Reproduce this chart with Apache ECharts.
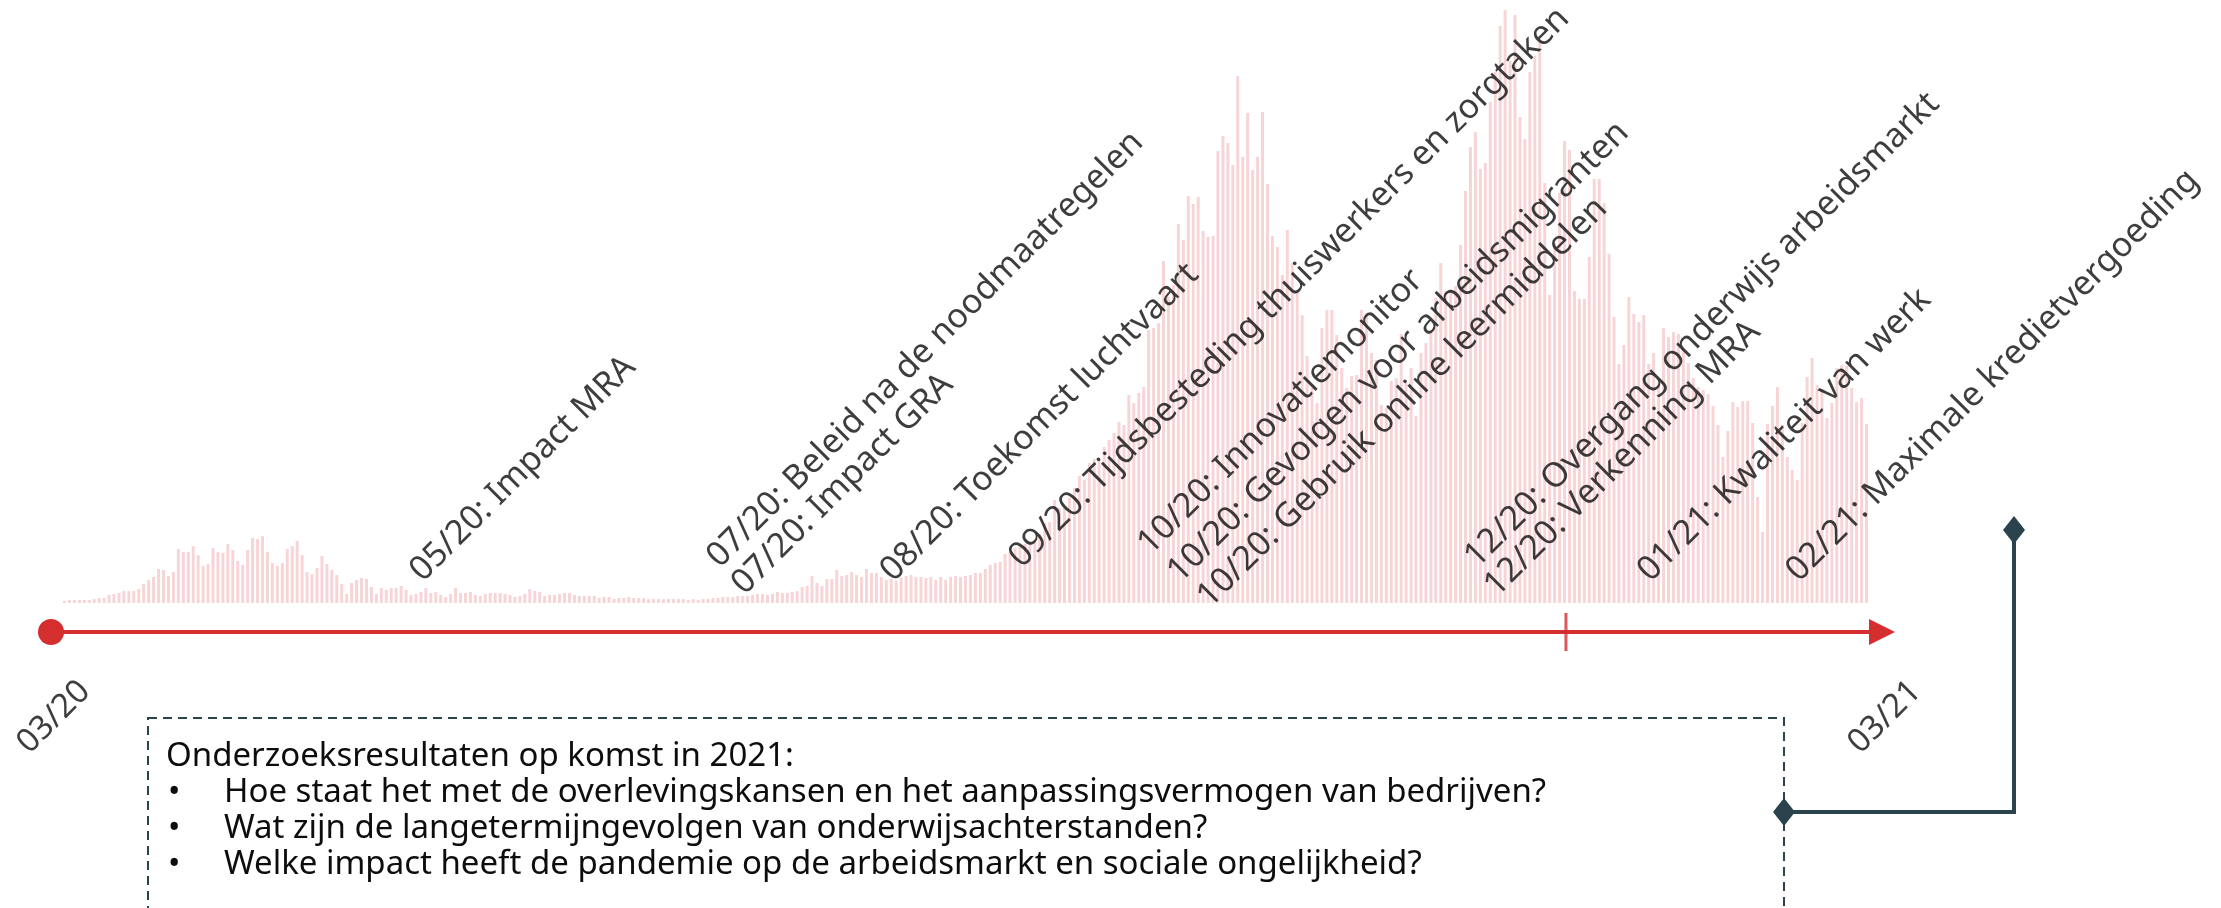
<!DOCTYPE html>
<html>
<head>
<meta charset="UTF-8">
<title>Tijdlijn onderzoeken</title>
<script src="https://cdn.jsdelivr.net/npm/echarts@6/dist/echarts.min.js"></script>
<style>
  html, body { margin: 0; padding: 0; background: #fff; }
  #main { width: 2221px; height: 908px; }
</style>
</head>
<body>
<div id="main"></div>
<script type="text/javascript">
  var barStart = '2020-03-01';
  var cases = [
    2, 3, 3, 3, 3, 3, 4, 5, 5, 8,
    9, 10, 12, 12, 12, 14, 19, 23, 26, 34,
    33, 27, 31, 54, 51, 51, 57, 48, 37, 39,
    55, 51, 50, 59, 53, 42, 38, 53, 65, 64,
    67, 51, 40, 37, 40, 54, 57, 62, 48, 31,
    29, 35, 47, 39, 33, 28, 19, 9, 20, 23,
    25, 24, 16, 9, 15, 13, 15, 15, 17, 13,
    8, 9, 11, 15, 10, 11, 8, 6, 9, 15,
    10, 10, 11, 8, 7, 9, 10, 10, 10, 9,
    8, 6, 7, 9, 14, 12, 11, 7, 8, 8,
    9, 10, 10, 8, 7, 7, 7, 7, 5, 6,
    6, 4, 5, 5, 6, 5, 5, 5, 4, 4,
    4, 4, 4, 4, 4, 4, 3, 4, 3, 4,
    4, 5, 5, 6, 6, 6, 7, 7, 7, 8,
    9, 9, 8, 9, 11, 10, 10, 11, 12, 16,
    17, 27, 20, 17, 24, 24, 33, 27, 28, 31,
    28, 26, 34, 30, 30, 26, 23, 24, 22, 25,
    27, 28, 26, 26, 25, 26, 23, 26, 23, 26,
    27, 26, 27, 28, 30, 30, 34, 38, 40, 41,
    49, 51, 55, 57, 59, 60, 62, 69, 80, 81,
    103, 95, 95, 105, 115, 127, 123, 140, 144, 143,
    156, 163, 170, 181, 178, 208, 200, 210, 216, 273,
    275, 280, 342, 306, 318, 379, 363, 407, 399, 406,
    372, 366, 367, 452, 467, 460, 438, 527, 446, 490,
    433, 446, 491, 419, 367, 356, 328, 373, 340, 311,
    288, 247, 215, 200, 275, 293, 293, 268, 235, 215,
    227, 228, 293, 290, 250, 243, 198, 195, 222, 225,
    269, 220, 235, 187, 250, 260, 272, 305, 340, 312,
    313, 317, 358, 412, 456, 471, 434, 440, 501, 531,
    577, 593, 542, 588, 486, 464, 531, 547, 562, 420,
    308, 360, 410, 462, 453, 312, 304, 304, 346, 424,
    424, 400, 349, 286, 239, 258, 306, 289, 281, 288,
    239, 250, 221, 275, 266, 271, 269, 255, 240, 225,
    216, 213, 209, 197, 178, 146, 172, 201, 196, 202,
    202, 180, 106, 71, 179, 197, 216, 178, 146, 133,
    123, 180, 226, 245, 218, 214, 185, 200, 235, 238,
    237, 215, 201, 205, 179
  ];

  // onderzoeken langs de tijdlijn
  var markerTexts = [
    '05/20: Impact MRA',
    '07/20: Beleid na de noodmaatregelen',
    '07/20: Impact GRA',
    '08/20: Toekomst luchtvaart',
    '09/20: Tijdsbesteding thuiswerkers en zorgtaken',
    '10/20: Innovatiemonitor',
    '10/20: Gevolgen voor arbeidsmigranten',
    '10/20: Gebruik online leermiddelen',
    '12/20: Overgang onderwijs arbeidsmarkt',
    '12/20: Verkenning MRA',
    '01/21: Kwaliteit van werk',
    '02/21: Maximale kredietvergoeding'
  ];
  var markerDates = ['2020-05-11', '2020-07-10', '2020-07-15', '2020-08-14', '2020-09-09', '2020-10-05',
    '2020-10-11', '2020-10-17', '2020-12-10', '2020-12-14', '2021-01-14', '2021-02-13'];
  var markerLevels = [27, 41, 14, 27, 41, 54, 26, 1, 41, 12, 27, 27];

  var timelineRange = ['2020-03-01', '2021-03-01'];
  var tickDates = ['2020-12-28'];

  var boxTitle = 'Onderzoeksresultaten op komst in 2021:';
  var boxItems = [
    'Hoe staat het met de overlevingskansen en het aanpassingsvermogen van bedrijven?',
    'Wat zijn de langetermijngevolgen van onderwijsachterstanden?',
    'Welke impact heeft de pandemie op de arbeidsmarkt en sociale ongelijkheid?'
  ];

  var RED = '#d42e2e';
  var BAR = '#f7d4d5';
  var SLATE = '#2a434d';
  var INK = '#0d0d0d';
  var FONT = 'Noto Sans';

  function buildDays(start, n) {
    var p = start.split('-').map(Number);
    var out = [];
    for (var i = 0; i < n; i++) {
      out.push(new Date(Date.UTC(p[0], p[1] - 1, p[2] + i)).toISOString().slice(0, 10));
    }
    return out;
  }
  function toTime(s) {
    var p = s.split('-').map(Number);
    return new Date(p[0], p[1] - 1, p[2]).getTime();
  }
  function pad(n) { return (n < 10 ? '0' : '') + n; }
  function monthLabel(v) {
    var d = new Date(v);
    return pad(d.getMonth() + 1) + '/' + String(d.getFullYear()).slice(2);
  }

  var days = buildDays(barStart, cases.length);
  var tMin = toTime(timelineRange[0]);
  var tMax = toTime(timelineRange[1]);

  var graphics = [
    {
      type: 'rect', silent: true,
      shape: { x: 148, y: 718, width: 1636, height: 300 },
      style: { fill: 'none', stroke: SLATE, lineWidth: 2, lineDash: [9, 6] }
    },
    {
      type: 'text', silent: true, x: 166, y: 757,
      style: { text: boxTitle, fill: INK, fontSize: 33, fontFamily: FONT, verticalAlign: 'middle' }
    },
    {
      type: 'polyline', silent: true,
      shape: { points: [[1784, 812], [2014, 812], [2014, 530]] },
      style: { stroke: SLATE, lineWidth: 4, fill: 'none' }
    },
    {
      type: 'polygon', silent: true, x: 1784, y: 812,
      shape: { points: [[0, -14], [11, 0], [0, 14], [-11, 0]] },
      style: { fill: SLATE }
    },
    {
      type: 'polygon', silent: true, x: 2014, y: 530,
      shape: { points: [[0, -14], [11, 0], [0, 14], [-11, 0]] },
      style: { fill: SLATE }
    }
  ];
  boxItems.forEach(function (t, i) {
    graphics.push({
      type: 'text', silent: true, x: 168, y: 793 + i * 36,
      style: { text: '•', fill: INK, fontSize: 33, fontFamily: FONT, verticalAlign: 'middle' }
    });
    graphics.push({
      type: 'text', silent: true, x: 224, y: 793 + i * 36,
      style: { text: t, fill: INK, fontSize: 33, fontFamily: FONT, verticalAlign: 'middle' }
    });
  });

  var myChart = echarts.init(document.getElementById('main'));

  var option = {
    animation: false,
    backgroundColor: '#fff',
    grid: [
      { left: 62, width: 1807, top: 3, height: 600 },
      { left: 51, width: 1831, top: 592, height: 40 }
    ],
    xAxis: [
      { type: 'category', gridIndex: 0, data: days, show: false },
      {
        type: 'time', gridIndex: 1, min: tMin, max: tMax,
        axisLine: {
          show: true, onZero: false,
          symbol: ['circle', 'triangle'], symbolSize: [26, 26],
          lineStyle: { color: RED, width: 4 }
        },
        axisTick: { show: false },
        splitLine: { show: false },
        axisLabel: { show: false }
      }
    ],
    yAxis: [
      { type: 'value', gridIndex: 0, min: 0, max: 600, show: false },
      { type: 'value', gridIndex: 1, min: 0, max: 1, show: false }
    ],
    series: [
      {
        type: 'bar', xAxisIndex: 0, yAxisIndex: 0, silent: true,
        data: cases, barCategoryGap: '40%',
        itemStyle: { color: BAR }
      },
      {
        // streepje op de tijdlijn
        type: 'scatter', xAxisIndex: 1, yAxisIndex: 1, silent: true,
        data: tickDates.map(function (d) { return [toTime(d), 0]; }),
        symbol: 'rect', symbolSize: [3, 38], clip: false,
        itemStyle: { color: RED }, z: 5
      },
      {
        // begin- en eindlabel van de tijdlijn
        type: 'scatter', xAxisIndex: 1, yAxisIndex: 1, silent: true, clip: false,
        symbolSize: 0,
        data: [[tMin, -2.2], [tMax, -2.2]],
        label: {
          show: true, position: 'inside', offset: [4, 0],
          formatter: function (p) { return monthLabel(p.value[0]); },
          align: 'center', verticalAlign: 'middle', rotate: 45,
          fontSize: 33, fontFamily: FONT, color: INK
        }
      },
      {
        type: 'scatter', xAxisIndex: 0, yAxisIndex: 0, silent: true, clip: false,
        symbolSize: 0, z: 10,
        data: markerDates.map(function (d, i) {
          return { name: markerTexts[i], value: [d, markerLevels[i]] };
        }),
        label: {
          show: true, position: 'inside', formatter: '{b}',
          align: 'left', verticalAlign: 'middle', rotate: 45,
          fontSize: 34, fontFamily: FONT, color: INK
        }
      }
    ],
    graphic: graphics
  };

  myChart.setOption(option);
</script>
</body>
</html>
